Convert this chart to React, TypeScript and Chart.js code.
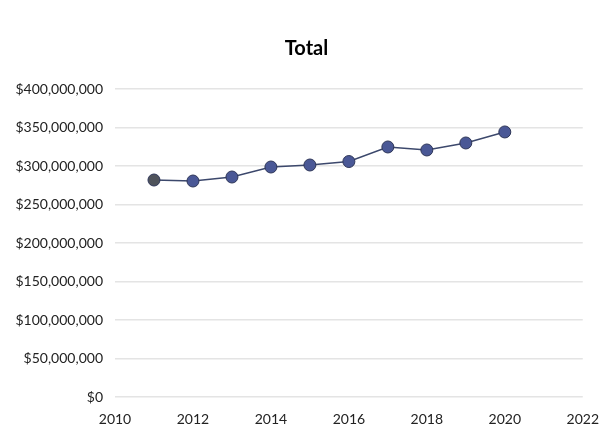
import React, { useEffect, useRef } from "react";
import { Chart, registerables } from "chart.js";

Chart.register(...registerables);

const years = [2011, 2012, 2013, 2014, 2015, 2016, 2017, 2018, 2019, 2020];
const totals = [281.8e6, 280.5e6, 285.7e6, 298.7e6, 301.3e6, 305.8e6, 324.7e6, 320.8e6, 329.9e6, 344.2e6];
const titleText = "Total";
const xMin = 2010;
const xMax = 2022;
const yMin = 0;
const yMax = 400e6;

const FONT = "Lato, 'Open Sans', sans-serif";

export default function App() {
  const ref = useRef<HTMLCanvasElement | null>(null);

  useEffect(() => {
    if (!ref.current) return;
    const pointColors = years.map((_, i) => (i === 0 ? "#4f535b" : "#4a5896"));
    const chart = new Chart(ref.current, {
      type: "line",
      data: {
        datasets: [
          {
            label: titleText,
            data: years.map((x, i) => ({ x, y: totals[i] })),
            borderColor: "#3c486c",
            borderWidth: 1.5,
            pointRadius: 6,
            pointBackgroundColor: pointColors,
            pointBorderColor: "#2e3658",
            pointBorderWidth: 1,
            tension: 0,
            yAxisID: "y",
          },
        ],
      },
      options: {
        animation: false,
        responsive: false,
        maintainAspectRatio: false,
        layout: { padding: { left: 0, right: 0, top: 0, bottom: 0 } },
        plugins: {
          legend: { display: false },
          tooltip: { enabled: false },
          title: {
            display: true,
            text: titleText,
            color: "#000000",
            font: { family: FONT, size: 20, weight: "bold", lineHeight: 1.2 },
            padding: { top: 37, bottom: 28 },
          },
        },
        scales: {
          x: {
            type: "linear",
            min: xMin,
            max: xMax,
            grid: { display: false, drawTicks: false },
            border: { display: false },
            ticks: {
              stepSize: 2,
              padding: 14,
              color: "#222222",
              font: { family: FONT, size: 14 },
              callback: (v: any) => String(v),
              maxRotation: 0,
            },
            afterFit: (s: any) => {
              s.height = 48;
            },
          },
          y: {
            position: "left",
            min: yMin,
            max: yMax,
            grid: { color: "#e4e4e4", drawTicks: false, lineWidth: 1.5 },
            border: { display: false },
            ticks: {
              stepSize: 50e6,
              padding: 12,
              color: "#222222",
              font: { family: FONT, size: 14 },
              callback: (v: any) => "$" + Number(v).toLocaleString("en-US"),
            },
            afterFit: (s: any) => {
              s.width = 115;
            },
          },
          yRight: {
            position: "right",
            min: yMin,
            max: yMax,
            grid: { display: false, drawTicks: false },
            border: { display: false },
            ticks: { display: false },
            afterFit: (s: any) => {
              s.width = 30;
            },
          },
        },
      },
    });
    return () => chart.destroy();
  }, []);

  return (
    <div style={{ position: "absolute", left: 0, top: 0, width: 613, height: 445, background: "#ffffff" }}>
      <canvas ref={ref} width={613} height={445} style={{ display: "block", width: 613, height: 445 }} />
    </div>
  );
}
